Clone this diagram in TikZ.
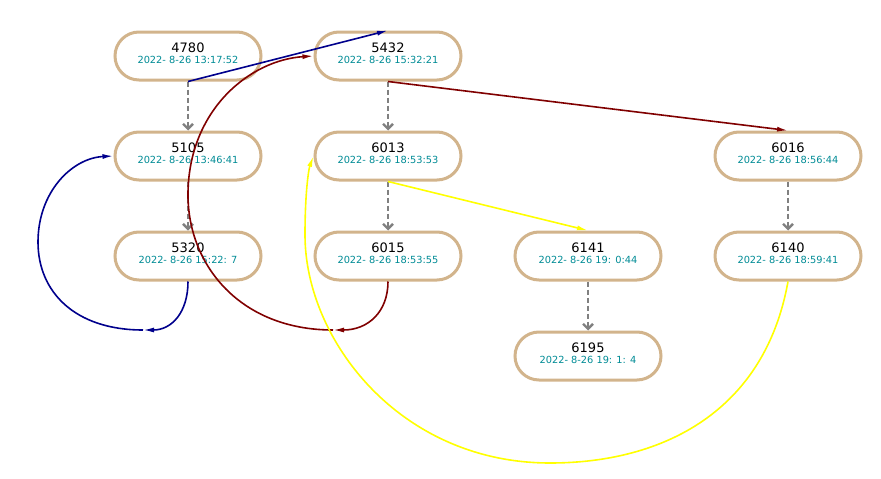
\documentclass[tikz,border=0pt]{standalone}
\usepackage{fontspec}
\setmainfont{DejaVu Sans}
\usetikzlibrary{
  arrows.meta,
  positioning
}
\definecolor{boxtan}{RGB}{210,180,140}
\definecolor{datecyan}{RGB}{0,140,150}
\definecolor{linkblue}{RGB}{0,0,140}
\definecolor{linkred}{RGB}{128,0,0}
\definecolor{linkyellow}{RGB}{255,255,0}
\newcommand{\job}[2]{{\fontsize{13}{14}\selectfont #1}\\[-1pt]{\color{datecyan}\fontsize{9.8}{11}\selectfont #2\rule[-6pt]{0pt}{6pt}}}
\tikzset{
  job box/.style={
    draw=boxtan, line width=3pt, rounded corners=24pt,
    minimum width=146pt, minimum height=48pt,
    fill=white, align=center, inner sep=0pt
  },
  seq arrow/.style={
    -{Straight Barb[length=5pt,width=10pt]}, draw=gray, line width=2.4pt,
    dash pattern=on 5pt off 3pt
  },
  link arrow/.style={
    -{Latex[length=11pt,width=5pt]}, line width=1.6pt
  },
}

\begin{document}
\begin{tikzpicture}[x=1pt, y=-1pt]

  \useasboundingbox (0,0) rectangle (881,479);

  % jobs
  \node[job box] (n4780) at (188, 56) {\job{4780}{2022- 8-26 13:17:52}};
  \node[job box] (n5432) at (388, 56) {\job{5432}{2022- 8-26 15:32:21}};
  \node[job box] (n5105) at (188,156) {\job{5105}{2022- 8-26 13:46:41}};
  \node[job box] (n6013) at (388,156) {\job{6013}{2022- 8-26 18:53:53}};
  \node[job box] (n6016) at (788,156) {\job{6016}{2022- 8-26 18:56:44}};
  \node[job box] (n5320) at (188,256) {\job{5320}{2022- 8-26 15:22: 7}};
  \node[job box] (n6015) at (388,256) {\job{6015}{2022- 8-26 18:53:55}};
  \node[job box] (n6141) at (588,256) {\job{6141}{2022- 8-26 19: 0:44}};
  \node[job box] (n6140) at (788,256) {\job{6140}{2022- 8-26 18:59:41}};
  \node[job box] (n6195) at (588,356) {\job{6195}{2022- 8-26 19: 1: 4}};

  % sequence
  \draw[seq arrow] (n4780.south) -- (n5105.north);
  \draw[seq arrow] (n5105.south) -- (n5320.north);
  \draw[seq arrow] (n5432.south) -- (n6013.north);
  \draw[seq arrow] (n6013.south) -- (n6015.north);
  \draw[seq arrow] (n6016.south) -- (n6140.north);
  \draw[seq arrow] (n6141.south) -- (n6195.north);

  % straight links
  \draw[link arrow, linkblue] (n4780.south) -- (n5432.north);
  \draw[link arrow, linkred] (n5432.south) -- (n6016.north);
  \draw[link arrow, linkyellow] (n6013.south) -- (n6141.north);

  % blue loop
  \coordinate (bmid) at (143,330);
  \draw[link arrow, linkblue] (n5320.south)
    .. controls (188,312) and (172,330) .. (bmid);
  \draw[link arrow, linkblue] (bmid)
    .. controls (75,330) and (38,292) .. (38,242)
    .. controls (38,192) and (72,158) .. (n5105.west);

  % red loop
  \coordinate (rmid) at (333,330);
  \draw[link arrow, linkred] (n6015.south)
    .. controls (388,312) and (368,330) .. (rmid);
  \draw[link arrow, linkred] (rmid)
    .. controls (240,330) and (188,265) .. (188,195)
    .. controls (188,110) and (250,60) .. (n5432.west);

  % yellow loop
  \draw[link arrow, linkyellow] (n6140.south)
    .. controls (765,410) and (665,463) .. (550,463)
    .. controls (400,463) and (305,340) .. (305,235)
    .. controls (305,190) and (309,168) .. (n6013.west);

\end{tikzpicture}
\end{document}
